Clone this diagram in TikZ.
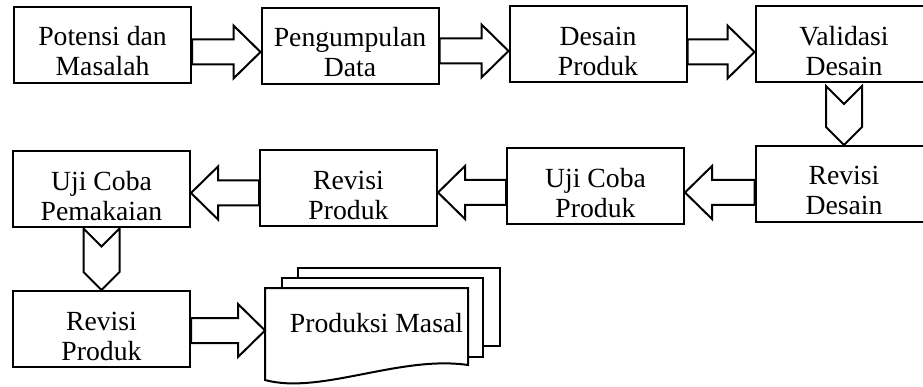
\documentclass[tikz,border=0pt]{standalone}
\usepackage{fontspec}
\setmainfont{Liberation Serif}
\usetikzlibrary{calc}

\begin{document}
\begin{tikzpicture}[x=1pt, y=-1pt, line width=2pt,
  box/.style={draw, minimum width=177pt, minimum height=76pt, inner sep=2pt, align=center,
    font={\fontsize{27.7}{30}\selectfont}, text height=62pt, text depth=0pt},
  blk/.style={draw, fill=white, line join=miter},
  doc/.style={inner sep=2pt, font={\fontsize{27.7}{30}\selectfont}}]

\useasboundingbox (0,0) rectangle (923,387);
\clip (0,0) rectangle (923,387);

% Define arrow sizes
\def\sw{12.5} % half width of shaft
\def\hw{26.5} % half width of head
\def\hl{27}   % length of head
\def\cw{18}   % half width of chevron

% Block arrows: tail anchor, head anchor, shift of the arrow
\def\rarrow#1#2#3{%
  \coordinate (h) at ($(#2)+(0,#3)$);
  \coordinate (t) at (#1 |- h);
  \draw[blk] ($(t)+(0,-\sw)$) -- ($(h)+(-\hl,-\sw)$) -- ($(h)+(-\hl,-\hw)$) -- (h)
    -- ($(h)+(-\hl,\hw)$) -- ($(h)+(-\hl,\sw)$) -- ($(t)+(0,\sw)$) -- cycle;}
\def\larrow#1#2#3{%
  \coordinate (h) at ($(#2)+(0,#3)$);
  \coordinate (t) at (#1 |- h);
  \draw[blk] ($(t)+(0,-\sw)$) -- ($(h)+(\hl,-\sw)$) -- ($(h)+(\hl,-\hw)$) -- (h)
    -- ($(h)+(\hl,\hw)$) -- ($(h)+(\hl,\sw)$) -- ($(t)+(0,\sw)$) -- cycle;}
\def\darrow#1#2#3{%
  \coordinate (tp) at ($(#1.south)+(0,#3)$);
  \coordinate (tip) at (#1.south |- #2.north);
  \draw[blk] ($(tp)+(-\cw,0)$) -- ($(tp)+(0,\cw)$) -- ($(tp)+(\cw,0)$) -- ($(tip)+(\cw,-\cw)$)
    -- (tip) -- ($(tip)+(-\cw,-\cw)$) -- cycle;}

% Top row
\node[box] (b1) at (102.5,45) {Potensi dan\\Masalah};
\node[box] (b2) at (350,46) {Pengumpulan\\Data};
\node[box] (b3) at (598,44.5) {Desain\\Produk};
\node[box] (b4) at (844,44.5) {Validasi\\Desain};

% Middle row
\node[box] (c4) at (844,184) {Revisi\\Desain};
\node[box] (c3) at (595.5,186.5) {Uji Coba\\Produk};
\node[box] (c2) at (348.5,188.5) {Revisi\\Produk};
\node[box] (c1) at (101.5,189.5) {Uji Coba\\Pemakaian};

% Bottom row
\node[box] (d1) at (101.5,329) {Revisi\\Produk};

% Produksi Masal stack
\filldraw[fill=white] (298,268) rectangle (500,346);
\filldraw[fill=white] (282,278) rectangle (483,357);
\filldraw[fill=white] (265,288) -- (468,288) -- (468,365)
  .. controls (400,355) and (320,395) .. (265,380) -- cycle;
\coordinate (pin) at (265,323.5);
\node[doc] (prod) at (376.5,323.5) {Produksi Masal};

% Arrows
\foreach \src/\dst/\dy in {b1/b2/6, b2/b3/6.5, b3/b4/7.5} {
  \rarrow{\src.east}{\dst.west}{\dy}
}
\foreach \src/\dst/\dy in {c4/c3/6, c3/c2/4, c2/c1/3.5} {
  \larrow{\src.west}{\dst.east}{\dy}
}
\darrow{b4}{c4}{2.5}
\darrow{c1}{d1}{0}
\rarrow{d1.east}{pin}{7}

\end{tikzpicture}
\end{document}
